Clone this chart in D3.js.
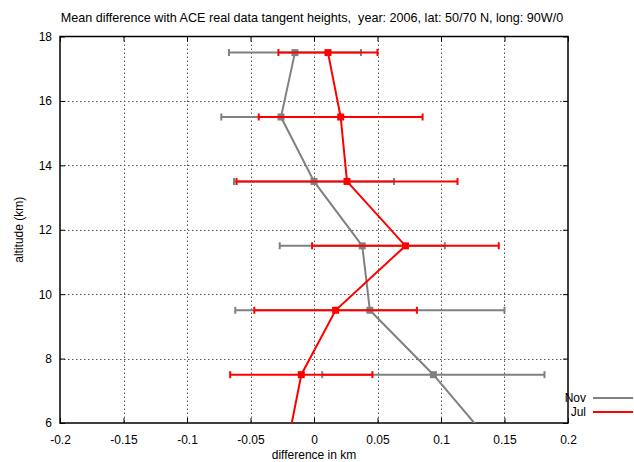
<!DOCTYPE html>
<html><head><meta charset="utf-8">
<script src="https://cdn.jsdelivr.net/npm/d3@7"></script>
<style>body{margin:0;background:#fff}svg{display:block}text{font-family:"Liberation Sans",Arial,sans-serif;}</style>
</head><body>
<svg id="c" width="634" height="462"></svg>
<script>
const altitudes = [17.5, 15.5, 13.5, 11.5, 9.5, 7.5, 5.5];
const novMean = [-0.015, -0.026, 0.000, 0.038, 0.044, 0.094, 0.137];
const novErr  = [0.052, 0.047, 0.063, 0.065, 0.106, 0.0875, 0.09];
const julMean = [0.011, 0.021, 0.026, 0.072, 0.017, -0.010, -0.020];
const julErr  = [0.039, 0.0645, 0.087, 0.0735, 0.064, 0.056, 0.05];
const xTicks = [-0.2, -0.15, -0.1, -0.05, 0, 0.05, 0.1, 0.15, 0.2];
const yTicks = [6, 8, 10, 12, 14, 16, 18];
const seriesNames = ["Nov", "Jul"];
const seriesColors = ["#808080", "#ff0000"];

const svg = d3.select("#c");
const L = 60, R = 568, T = 36.5, B = 423;
const x = d3.scaleLinear().domain([-0.2, 0.2]).range([L, R]);
const y = d3.scaleLinear().domain([6, 18]).range([B, T]);

svg.append("defs").append("clipPath").attr("id","clip")
  .append("rect").attr("x",L).attr("y",T).attr("width",R-L).attr("height",B-T);

// grid
const grid = svg.append("g").attr("stroke","#555").attr("stroke-width",1).attr("stroke-dasharray","1.5,2.5");
xTicks.slice(1,-1).forEach(v=>grid.append("line").attr("x1",Math.round(x(v))+0.5).attr("x2",Math.round(x(v))+0.5).attr("y1",T).attr("y2",B));
yTicks.slice(1,-1).forEach(v=>grid.append("line").attr("y1",Math.round(y(v))+0.5).attr("y2",Math.round(y(v))+0.5).attr("x1",L).attr("x2",R));

// axes
const xAxis = svg.append("g").attr("transform",`translate(0,${B})`)
  .call(d3.axisBottom(x).tickValues(xTicks).tickSize(-5).tickPadding(12).tickFormat(d=>String(d)));
const xAxisTop = svg.append("g").attr("transform",`translate(0,${T})`)
  .call(d3.axisTop(x).tickValues(xTicks).tickSize(-5).tickFormat(""));
const yAxis = svg.append("g").attr("transform",`translate(${L},0)`)
  .call(d3.axisLeft(y).tickValues(yTicks).tickSize(-5).tickPadding(8));
const yAxisR = svg.append("g").attr("transform",`translate(${R},0)`)
  .call(d3.axisRight(y).tickValues(yTicks).tickSize(-5).tickFormat(""));
[xAxis,xAxisTop,yAxis,yAxisR].forEach(g=>{
  g.select(".domain").remove();
  g.selectAll("line").attr("stroke","#000");
  g.selectAll("text").attr("font-size","12px").attr("fill","#000").attr("font-family","Liberation Sans, Arial, sans-serif");
});
svg.append("rect").attr("x",L).attr("y",T).attr("width",R-L).attr("height",B-T)
  .attr("fill","none").attr("stroke","#000").attr("stroke-width",1.5);

// series
const plot = svg.append("g").attr("clip-path","url(#clip)");
const sets = [[novMean, novErr], [julMean, julErr]];
sets.forEach(([m, e], si) => {
  const col = seriesColors[si];
  const g = plot.append("g");
  const data = altitudes.map((a,i)=>({a, m:m[i], e:e[i]}));
  data.forEach(d=>{
    g.append("line").attr("x1",x(d.m-d.e)).attr("x2",x(d.m+d.e)).attr("y1",y(d.a)).attr("y2",y(d.a))
      .attr("stroke",col).attr("stroke-width",2);
    [d.m-d.e, d.m+d.e].forEach(v=>g.append("line").attr("x1",x(v)).attr("x2",x(v)).attr("y1",y(d.a)-3.5).attr("y2",y(d.a)+3.5)
      .attr("stroke",col).attr("stroke-width",2));
  });
  g.append("path").datum(data).attr("fill","none").attr("stroke",col).attr("stroke-width",2)
    .attr("d", d3.line().x(d=>x(d.m)).y(d=>y(d.a)));
  g.selectAll("rect.pt").data(data).enter().append("rect")
    .attr("x",d=>x(d.m)-3.5).attr("y",d=>y(d.a)-3.5).attr("width",7).attr("height",7).attr("fill",col);
});

// legend
seriesNames.forEach((n,i)=>{
  const yy = 398 + i*14;
  svg.append("text").attr("x",586).attr("y",yy+4).attr("text-anchor","end").attr("font-size","12px").text(n);
  svg.append("line").attr("x1",593).attr("x2",633).attr("y1",yy).attr("y2",yy).attr("stroke",seriesColors[i]).attr("stroke-width",2);
});

// titles
svg.append("text").attr("x",312).attr("y",22).attr("text-anchor","middle").attr("font-size","12.6px")
  .style("white-space","pre")
  .text("Mean difference with ACE real data tangent heights,  year: 2006, lat: 50/70 N, long: 90W/0");
svg.append("text").attr("x",314).attr("y",459).attr("text-anchor","middle").attr("font-size","12px").text("difference in km");
svg.append("text").attr("transform",`translate(23,${(T+B)/2}) rotate(-90)`).attr("text-anchor","middle").attr("font-size","12px").text("altitude (km)");
</script>
</body></html>
